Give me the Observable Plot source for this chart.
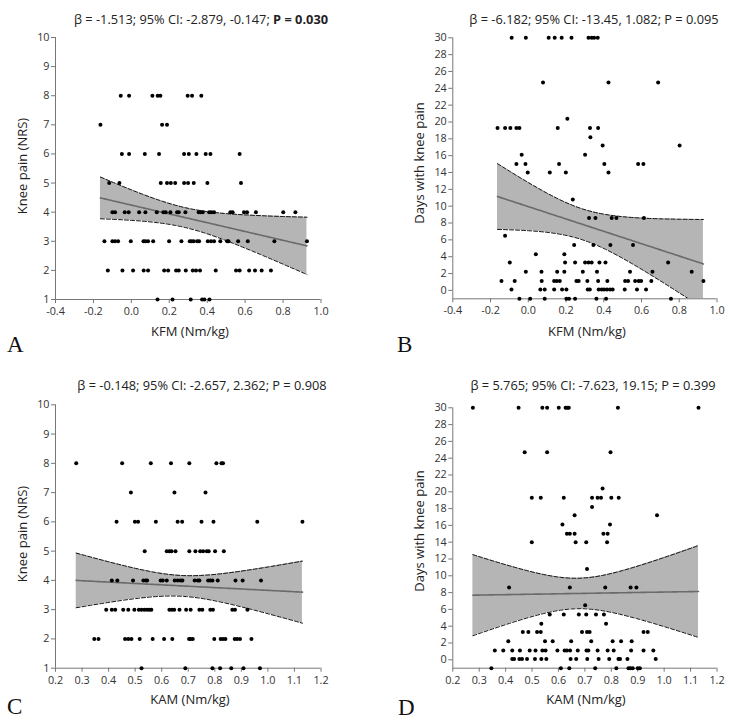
<!DOCTYPE html>
<html>
<head>
<meta charset="utf-8">
<script src="https://cdn.jsdelivr.net/npm/d3@7"></script>
<script src="https://cdn.jsdelivr.net/npm/@observablehq/plot@0.6"></script>
<style>
  html, body { margin: 0; padding: 0; background: #fff; }
  #wrap { position: relative; width: 738px; height: 724px; font-family: "Open Sans", sans-serif; color: #222; overflow: hidden; }
  .panel { position: absolute; width: 369px; height: 362px; }
  .title { position: absolute; transform: translate(-50%, -50%); white-space: nowrap; font-size: 12.8px; }
  .xlab { position: absolute; transform: translate(-50%, -50%); white-space: nowrap; font-size: 13px; }
  .ylab { position: absolute; transform: translate(-50%, -50%) rotate(-90deg); white-space: nowrap; font-size: 13px; }
  .letter { position: absolute; font-family: "Liberation Serif", "Times New Roman", serif; font-size: 23px; line-height: 23px; color: #111; }
</style>
</head>
<body>
<div id="wrap"></div>
<script>
// ---------- data ----------
// Panel A: KFM (Nm/kg) vs Knee pain (NRS), grouped by NRS level
const nrsLevelsA = [8, 7, 6, 5, 4, 3, 2, 1];
const kfmByLevelA = [
  [-0.056, -0.012, 0.111, 0.139, 0.153, 0.297, 0.320, 0.369],
  [-0.163, 0.162, 0.188],
  [-0.050, -0.012, 0.071, 0.146, 0.278, 0.303, 0.343, 0.392, 0.417, 0.571],
  [-0.117, -0.063, 0.155, 0.188, 0.208, 0.231, 0.278, 0.299, 0.329, 0.401, 0.578],
  [-0.100, -0.086, -0.035, -0.014, 0.041, 0.074, 0.134, 0.169, 0.181, 0.206, 0.241, 0.250, 0.285, 0.355, 0.366, 0.376, 0.410, 0.422, 0.436, 0.522, 0.534, 0.594, 0.610, 0.657, 0.801, 0.865],
  [-0.142, -0.100, -0.086, -0.070, -0.003, 0.064, 0.074, 0.088, 0.115, 0.199, 0.264, 0.308, 0.318, 0.329, 0.347, 0.357, 0.403, 0.420, 0.436, 0.469, 0.505, 0.512, 0.563, 0.614, 0.754, 0.926],
  [-0.124, -0.047, 0.009, 0.065, 0.088, 0.173, 0.194, 0.236, 0.250, 0.287, 0.324, 0.341, 0.362, 0.445, 0.552, 0.571, 0.621, 0.652, 0.687, 0.736],
  [0.138, 0.217, 0.313, 0.373, 0.385, 0.412]
];

// Panel B: KFM (Nm/kg) vs Days with knee pain, grouped by level (as positioned on the axis)
const dayLevelsB = [30, 24.7, 20.4, 19.3, 18.2, 17.2, 16.1, 15.0, 14.0, 10.8, 8.6, 6.5, 5.4, 4.3, 3.3, 2.2, 1.1, 0.1, -1];
const kfmByLevelB = [
  [-0.088, -0.013, 0.108, 0.140, 0.177, 0.229, 0.319, 0.336, 0.349, 0.368],
  [0.078, 0.425, 0.688],
  [0.207],
  [-0.163, -0.123, -0.095, -0.063, -0.047, 0.156, 0.327, 0.370],
  [0.329],
  [0.394, 0.802],
  [-0.035, 0.301],
  [-0.063, -0.015, 0.163, 0.403, 0.582, 0.610],
  [-0.003, 0.114, 0.199, 0.425],
  [0.236],
  [0.322, 0.356, 0.442, 0.467, 0.613],
  [-0.123],
  [0.243, 0.345, 0.435, 0.555],
  [0.040, 0.191],
  [-0.098, 0.195, 0.248, 0.301, 0.319, 0.336, 0.377, 0.409, 0.741],
  [-0.013, 0.070, 0.153, 0.191, 0.289, 0.364, 0.539, 0.658, 0.866],
  [-0.142, -0.072, 0.071, 0.137, 0.151, 0.167, 0.255, 0.267, 0.313, 0.370, 0.419, 0.513, 0.529, 0.566, 0.585, 0.598, 0.652, 0.928],
  [-0.089, 0.064, 0.087, 0.137, 0.179, 0.202, 0.315, 0.326, 0.373, 0.389, 0.402, 0.417, 0.433, 0.447, 0.511, 0.576, 0.624],
  [-0.047, 0.010, 0.087, 0.202, 0.216, 0.248, 0.361, 0.412, 0.756]
];

// Panel C: KAM (Nm/kg) vs Knee pain (NRS)
const nrsLevelsC = [8, 7, 6, 5, 4, 3, 2, 1];
const kamByLevelC = [
  [0.278, 0.451, 0.559, 0.635, 0.704, 0.806, 0.825, 0.831],
  [0.484, 0.648, 0.765],
  [0.430, 0.499, 0.511, 0.578, 0.660, 0.677, 0.750, 0.795, 0.960, 1.130],
  [0.536, 0.619, 0.629, 0.637, 0.652, 0.704, 0.727, 0.745, 0.756, 0.770, 0.777, 0.801, 0.834],
  [0.412, 0.433, 0.492, 0.531, 0.540, 0.545, 0.596, 0.604, 0.619, 0.649, 0.660, 0.671, 0.678, 0.724, 0.736, 0.742, 0.775, 0.783, 0.791, 0.811, 0.878, 0.905, 0.974],
  [0.391, 0.412, 0.425, 0.455, 0.474, 0.497, 0.514, 0.524, 0.535, 0.545, 0.554, 0.561, 0.629, 0.638, 0.647, 0.667, 0.692, 0.709, 0.742, 0.753, 0.783, 0.793, 0.866, 0.876, 0.923],
  [0.346, 0.362, 0.462, 0.474, 0.486, 0.517, 0.566, 0.609, 0.640, 0.703, 0.709, 0.717, 0.798, 0.822, 0.831, 0.840, 0.875, 0.884, 0.895, 0.938],
  [0.524, 0.689, 0.791, 0.820, 0.862, 0.908, 0.970]
];

// Panel D: KAM (Nm/kg) vs Days with knee pain
const dayLevelsD = [30, 24.7, 20.4, 19.3, 18.2, 17.2, 16.1, 15.0, 14.0, 10.8, 8.6, 6.5, 5.4, 4.3, 3.3, 2.2, 1.1, 0.1, -1];
const kamByLevelD = [
  [0.276, 0.449, 0.539, 0.557, 0.601, 0.627, 0.633, 0.639, 0.825, 1.130],
  [0.472, 0.557, 0.797],
  [0.767],
  [0.499, 0.533, 0.620, 0.727, 0.748, 0.761, 0.800, 0.828],
  [0.727],
  [0.661, 0.973],
  [0.615, 0.795],
  [0.632, 0.643, 0.661, 0.770, 0.786],
  [0.499, 0.665, 0.705, 0.784],
  [0.708],
  [0.413, 0.643, 0.777, 0.873, 0.895],
  [0.701],
  [0.567, 0.620, 0.677, 0.705, 0.742, 0.772],
  [0.535, 0.780],
  [0.465, 0.486, 0.519, 0.533, 0.689, 0.708, 0.718, 0.922, 0.938],
  [0.410, 0.549, 0.578, 0.648, 0.724, 0.805, 0.837, 0.877],
  [0.359, 0.391, 0.425, 0.454, 0.491, 0.513, 0.539, 0.551, 0.596, 0.623, 0.632, 0.644, 0.673, 0.706, 0.713, 0.748, 0.786, 0.809, 0.875, 0.922, 0.959],
  [0.425, 0.432, 0.452, 0.462, 0.481, 0.511, 0.535, 0.554, 0.646, 0.667, 0.709, 0.752, 0.792, 0.827, 0.833, 0.861, 0.968],
  [0.346, 0.609, 0.641, 0.739, 0.819, 0.865, 0.872, 0.881, 0.900, 0.908]
];

// Fitted (model) lines as drawn in the picture: intercept and slope per panel A–D
const fitIntercepts = [4.243, 9.95, 4.13, 7.55];
const fitSlopes = [-1.513, -7.34, -0.47, 0.515];

// Tick values
const kfmTicks = [-0.4, -0.2, 0.0, 0.2, 0.4, 0.6, 0.8, 1.0];
const kamTicks = [0.2, 0.3, 0.4, 0.5, 0.6, 0.7, 0.8, 0.9, 1.0, 1.1, 1.2];
const nrsTicks = [1, 2, 3, 4, 5, 6, 7, 8, 9, 10];
const dayTicks = [0, 2, 4, 6, 8, 10, 12, 14, 16, 18, 20, 22, 24, 26, 28, 30];

const titles = [
  'β = -1.513; 95% CI: -2.879, -0.147; <b>P = 0.030</b>',
  'β = -6.182; 95% CI: -13.45, 1.082; P = 0.095',
  'β = -0.148; 95% CI: -2.657, 2.362; P = 0.908',
  'β = 5.765; 95% CI: -7.623, 19.15; P = 0.399'
];
const xLabels = ["KFM (Nm/kg)", "KFM (Nm/kg)", "KAM (Nm/kg)", "KAM (Nm/kg)"];
const yLabels = ["Knee pain (NRS)", "Days with knee pain", "Knee pain (NRS)", "Days with knee pain"];
const letters = ["A", "B", "C", "D"];

// ---------- helpers ----------
function flatten(levels, byLevel) {
  const out = [];
  levels.forEach((y, i) => byLevel[i].forEach(x => out.push({x, y})));
  return out;
}
// 95% confidence band of the fitted line, using the spread of the data
function band(pts, a, b) {
  const xs = pts.map(d => d.x), ys = pts.map(d => d.y);
  const n = xs.length, mx = d3.mean(xs);
  const sxx = d3.sum(xs, x => (x - mx) ** 2);
  const sse = d3.sum(xs, (x, i) => (ys[i] - a - b * x) ** 2);
  const s = Math.sqrt(sse / (n - 2)), t = 1.982;
  const [x0, x1] = d3.extent(xs);
  return d3.range(0, 81).map(i => {
    const x = x0 + (x1 - x0) * i / 80;
    const f = a + b * x;
    const h = t * s * Math.sqrt(1 / n + (x - mx) ** 2 / sxx);
    return {x, fit: f, lo: f - h, hi: f + h};
  });
}
const fmt1 = d => (Math.abs(d) < 1e-9 ? 0 : d).toFixed(1);

function panel(pts, cfg, i) {
  const bd = band(pts, fitIntercepts[i], fitSlopes[i]);
  return Plot.plot({
    width: 369, height: 362,
    marginLeft: cfg.ml, marginRight: cfg.mr, marginTop: cfg.mt, marginBottom: cfg.mb,
    style: {fontFamily: "'Open Sans', sans-serif", fontSize: "10.8px", color: "#333", background: "transparent", overflow: "visible"},
    x: {domain: cfg.xDomain, label: null},
    y: {domain: cfg.yDomain, label: null},
    marks: [
      Plot.areaY(bd, {x: "x", y1: "lo", y2: "hi", fill: "#b5b5b5", clip: true}),
      Plot.line(bd, {x: "x", y: "hi", stroke: "#111", strokeWidth: 1, strokeDasharray: "4,2", clip: true}),
      Plot.line(bd, {x: "x", y: "lo", stroke: "#111", strokeWidth: 1, strokeDasharray: "4,2", clip: true}),
      Plot.line(bd, {x: "x", y: "fit", stroke: "#6a6a6a", strokeWidth: 1.6}),
      Plot.ruleX([cfg.xDomain[0]], {stroke: "#777", strokeWidth: 1}),
      Plot.ruleY([cfg.yDomain[0]], {stroke: "#777", strokeWidth: 1}),
      Plot.axisX({ticks: cfg.xTicks, tickFormat: fmt1, tickSize: 4, tickPadding: 4, stroke: "#777", fill: "#333", label: null}),
      Plot.axisY({ticks: cfg.yTicks, tickSize: 4, tickPadding: 2, stroke: "#777", fill: "#333", label: null}),
      Plot.dot(pts, {x: "x", y: "y", r: 2, fill: "#000", stroke: "none"})
    ]
  });
}

// ---------- layout ----------
const wrap = document.getElementById("wrap");
const panels = [
  {pts: flatten(nrsLevelsA, kfmByLevelA), left: 0, top: 0, ml: 55, mr: 48.5, mt: 37, mb: 63, xDomain: [-0.4, 1.0], yDomain: [1, 10], xTicks: kfmTicks, yTicks: nrsTicks,
   title: [201, 19], xlab: [190, 331], ylab: [22, 166], letter: [7, 333]},
  {pts: flatten(dayLevelsB, kfmByLevelB), left: 369, top: 0, ml: 83.3, mr: 21.5, mt: 37.3, mb: 63.7, xDomain: [-0.4, 1.0], yDomain: [-1, 30], xTicks: kfmTicks, yTicks: dayTicks,
   title: [594, 19], xlab: [587, 331], ylab: [419, 163], letter: [397, 333]},
  {pts: flatten(nrsLevelsC, kamByLevelC), left: 0, top: 362, ml: 55, mr: 48.5, mt: 42.3, mb: 56.3, xDomain: [0.2, 1.2], yDomain: [1, 10], xTicks: kamTicks, yTicks: nrsTicks,
   title: [202, 385], xlab: [190, 699], ylab: [22, 534], letter: [7, 695]},
  {pts: flatten(dayLevelsD, kamByLevelD), left: 369, top: 362, ml: 83.3, mr: 21.5, mt: 45.3, mb: 56.3, xDomain: [0.2, 1.2], yDomain: [-1, 30], xTicks: kamTicks, yTicks: dayTicks,
   title: [593, 385], xlab: [586, 699], ylab: [419, 531], letter: [398, 696]}
];

panels.forEach((p, i) => {
  const div = document.createElement("div");
  div.className = "panel";
  div.style.left = p.left + "px";
  div.style.top = p.top + "px";
  div.appendChild(panel(p.pts, p, i));
  wrap.appendChild(div);

  const t = document.createElement("div");
  t.className = "title";
  t.innerHTML = titles[i];
  t.style.left = p.title[0] + "px"; t.style.top = p.title[1] + "px";
  wrap.appendChild(t);

  const xl = document.createElement("div");
  xl.className = "xlab"; xl.textContent = xLabels[i];
  xl.style.left = p.xlab[0] + "px"; xl.style.top = p.xlab[1] + "px";
  wrap.appendChild(xl);

  const yl = document.createElement("div");
  yl.className = "ylab"; yl.textContent = yLabels[i];
  yl.style.left = p.ylab[0] + "px"; yl.style.top = p.ylab[1] + "px";
  wrap.appendChild(yl);

  const L = document.createElement("div");
  L.className = "letter"; L.textContent = letters[i];
  L.style.left = p.letter[0] + "px"; L.style.top = p.letter[1] + "px";
  wrap.appendChild(L);
});
</script>
</body>
</html>
